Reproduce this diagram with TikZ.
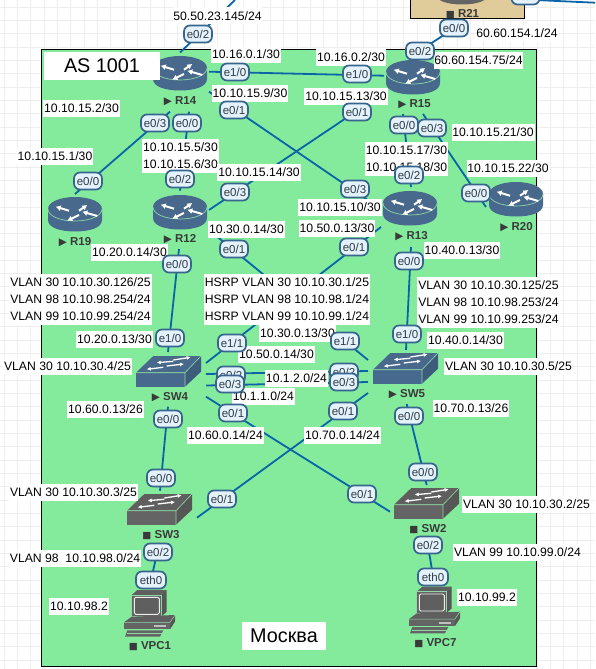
\documentclass[tikz,border=0pt]{standalone}
\usepackage{fontspec}
\setmainfont{Liberation Sans}
\newfontfamily\symf{DejaVu Sans}
\usetikzlibrary{arrows.meta,calc}
\definecolor{gridc}{HTML}{EEEEEE}
\definecolor{asgreen}{HTML}{84EB9D}
\definecolor{tan}{HTML}{E0CB9B}
\definecolor{linkc}{HTML}{0B64A8}
\definecolor{ifill}{HTML}{E3F2FD}
\definecolor{iedge}{HTML}{37658E}
\definecolor{itext}{HTML}{2F3B42}
\definecolor{devtext}{HTML}{3A3A3A}
\definecolor{edgegreen}{HTML}{8FD6A8}
\definecolor{bluetop}{HTML}{48698C}
\definecolor{bluefront}{HTML}{46698D}
\definecolor{blueside}{HTML}{3D5C7C}
\definecolor{graytop}{HTML}{5F5F5F}
\definecolor{grayfront}{HTML}{646464}
\definecolor{grayside}{HTML}{565656}
\tikzset{
  link/.style={draw=linkc,line width=1.8pt},
  addr/.style={fill=white,inner xsep=0.8pt,inner ysep=0pt,minimum height=17pt,text=black,font=\fontsize{12.2}{14}\selectfont},
  big/.style={fill=white,inner sep=0pt,text=black,font=\fontsize{19.8}{22}\selectfont},
  iface/.style={draw=iedge,fill=ifill,line width=1.7pt,rounded corners=6pt,minimum width=28pt,minimum height=17pt,inner sep=0pt,text=itext,font=\fontsize{11.5}{13}\selectfont},
  devlab/.style={inner sep=0pt,text=devtext,font=\fontsize{11.5}{13}\selectfont\bfseries},
  devbox/.style={inner sep=0pt,minimum width=#1,minimum height=33pt},
  wa/.style={draw=white,line width=2pt,-{Latex[length=5pt,width=6pt]}},
  wb/.style={draw=white,line width=1.3pt,-{Latex[length=4pt,width=4pt]}},
  pics/routericon/.style={code={
    \fill[#1front] (-27,-5) -- (-27,6) .. controls (-27,14) and (-14,17.5) .. (0,17.5) .. controls (14,17.5) and (27,14) .. (27,6) -- (27,-5) -- cycle;
    \fill[#1top] (0,-17) .. controls (15,-17) and (27,-12) .. (27,-5) .. controls (27,2) and (15,7) .. (0,7) .. controls (-15,7) and (-27,2) .. (-27,-5) .. controls (-27,-12) and (-15,-17) .. (0,-17) -- cycle;
    \draw[edgegreen,line width=0.7pt] (27,-5) .. controls (27,2) and (15,7) .. (0,7) .. controls (-15,7) and (-27,2) .. (-27,-5);
    \draw[wa] (-6,-3.3) -- (-19.3,-7.3);
    \draw[wa] (4,-3.3) -- (12.3,-9);
    \draw[wa] (22.3,2) -- (7.3,-2.3);
    \draw[wa] (4,1) -- (-7.7,6.7);
  }},
  pics/switchicon/.style={code={
    \fill[#1top] (0,16.7) -- (17.3,0) -- (65,0) -- (49,16.7) -- cycle;
    \fill[#1side] (49,16.7) -- (65,0) -- (65,15.7) -- (49,30.7) -- cycle;
    \fill[#1front] (0,16.7) rectangle (49,30.7);
    \draw[edgegreen,line width=0.6pt] (0,16.7) -- (49,16.7) -- (65,0) (49,16.7) -- (49,30.7);
    \draw[wb] (37.3,4) -- (54.7,1.3);
    \draw[wb] (37.3,5.3) -- (20.7,6.7);
    \draw[wb] (30.7,10) -- (48,8);
    \draw[wb] (27.3,11.3) -- (10.7,13.3);
  }},
  pics/pcicon/.style={code={
    \fill[graytop] (7.7,5) -- (13.3,0) -- (42.7,0) -- (37,5) -- cycle;
    \fill[grayside] (37,5) -- (42.7,0) -- (42.7,21.7) -- (37,26.7) -- cycle;
    \fill[grayfront] (7.7,5) rectangle (37,26.7);
    \draw[edgegreen,line width=0.5pt] (7.7,5) rectangle (37,26.7);
    \draw[white!85!gray,line width=0.9pt,fill=graytop,rounded corners=1.5pt] (10.3,7.3) rectangle (35.3,24.3);
    \fill[graytop] (0,32.3) -- (7.7,26.7) -- (51,25) -- (46,32.3) -- cycle;
    \fill[grayside] (46,32.3) -- (51,25) -- (51,31.7) -- (46,39.3) -- cycle;
    \fill[grayfront] (0,32.3) rectangle (46,39.3);
    \draw[edgegreen,line width=0.5pt] (0,32.3) -- (46,32.3) -- (51,25);
    \fill[gray!50] (30.3,35) rectangle (41.7,36.9);
    \fill[grayfront] (3.3,40.3) -- (39.3,40.3) -- (36,46.7) -- (1,46.7) -- cycle;
    \draw[edgegreen,line width=0.5pt] (2.5,43.5) -- (37.5,43.5);
  }},
}
\begin{document}
\begin{tikzpicture}[x=1pt,y=-1pt]
\useasboundingbox (0,0) rectangle (595,669);
\clip (0,0) rectangle (595,669);
\fill[white] (0,0) rectangle (595,669);
% background grid
\foreach \gx in {0,...,44} \draw[gridc,line width=0.9pt] ({4+\gx*13.33},0) -- ({4+\gx*13.33},669);
\foreach \gy in {0,...,50} \draw[gridc,line width=0.9pt] (0,{7+\gy*13.33}) -- (595,{7+\gy*13.33});
% areas
\draw[black,line width=1pt,fill=asgreen] (41.5,49.5) rectangle (536.5,666);
% connector ends
\coordinate (r14a) at (180,52.5);      \coordinate (extA) at (235,0);
\coordinate (r14b) at (209,71.7);      \coordinate (r15b) at (384,75.7);
\coordinate (r14c) at (209,91.7);      \coordinate (r13c) at (372,203);
\coordinate (r15d) at (382,94);        \coordinate (r12d) at (209,210);
\coordinate (r14e) at (170,111.7);     \coordinate (r19e) at (75,194);
\coordinate (r14f) at (189,111.7);     \coordinate (r12f) at (180,190.7);
\coordinate (r12g) at (209,230);       \coordinate (sw5g) at (368,360);
\coordinate (r13h) at (381,227);       \coordinate (sw4h) at (206,363);
\coordinate (r12i) at (179,249);       \coordinate (sw4i) at (168,352);
\coordinate (r13j) at (411,247);       \coordinate (sw5j) at (406,350);
\coordinate (sw4k) at (206,374);       \coordinate (sw5k) at (368,371);
\coordinate (sw4l) at (206,385.5);     \coordinate (sw5l) at (368,382);
\coordinate (sw4m) at (206,396.7);     \coordinate (sw2m) at (390,511.7);
\coordinate (sw5n) at (368,393);       \coordinate (sw3n) at (197,517.7);
\coordinate (sw4o) at (168,406.7);     \coordinate (sw3o) at (160,490.7);
\coordinate (sw5p) at (406.7,404);     \coordinate (sw2p) at (426.7,485);
\coordinate (sw3q) at (159,544);       \coordinate (pc1q) at (150,585);
\coordinate (sw2r) at (427,540);       \coordinate (pc7r) at (434,582);
\coordinate (r15s) at (403,114);       \coordinate (r13s) at (411,187);
\coordinate (r15t) at (423,114);       \coordinate (r20t) at (486,207);
\coordinate (r15u) at (412,56);        \coordinate (r21u) at (462,23);
\coordinate (r21v) at (535,0);         \coordinate (extB) at (595,2.7);
% connectors
\draw[link] (r14a) -- (extA);
\draw[link] (r14b) -- (r15b);
\draw[link] (r14c) -- (r13c);
\draw[link] (r15d) -- (r12d);
\draw[link] (r14e) -- (r19e);
\draw[link] (r14f) -- (r12f);
\draw[link] (r12g) -- (sw5g);
\draw[link] (r13h) -- (sw4h);
\draw[link] (r12i) -- (sw4i);
\draw[link] (r13j) -- (sw5j);
\draw[link] (sw4k) -- (sw5k);
\draw[link] (sw4l) -- (sw5l);
\draw[link] (sw4m) -- (sw2m);
\draw[link] (sw5n) -- (sw3n);
\draw[link] (sw4o) -- (sw3o);
\draw[link] (sw5p) -- (sw2p);
\draw[link] (sw3q) -- (pc1q);
\draw[link] (sw2r) -- (pc7r);
\draw[link] (r15s) -- (r13s);
\draw[link] (r15t) -- (r20t);
\draw[link] (r15u) -- (r21u);
\draw[link] (r21v) -- (extB);
% R21 area
\draw[black,line width=1pt,fill=tan] (410.5,-5) rectangle (524,19);
\pic at (462,-13) {routericon=gray};
\node[devbox=54pt] (r21) at (462,-13) {};
\newcommand{\playmark}{{\symf\fontsize{10.5}{11}\selectfont ▶}}
\newcommand{\stopmark}{{\symf\fontsize{9.5}{11}\selectfont ■}}
\node[devlab] (r21lab) at (462.5,14) {\stopmark\ R21};
% routers
\pic at (180,73) {routericon=blue};   \node[devbox=54pt] (r14) at (180,73) {};
\pic at (75,214) {routericon=blue};   \node[devbox=54pt] (r19) at (75,214) {};
\pic at (180,212) {routericon=blue};  \node[devbox=54pt] (r12) at (180,212) {};
\pic at (413,77) {routericon=blue};   \node[devbox=54pt] (r15) at (413,77) {};
\pic at (410,208) {routericon=blue};  \node[devbox=54pt] (r13) at (410,208) {};
\pic at (516,199) {routericon=blue};  \node[devbox=54pt] (r20) at (516,199) {};
% switches
\pic at (136,356) {switchicon=blue};  \node[devbox=65pt] (sw4) at (168.5,371.5) {};
\pic at (373,353) {switchicon=blue};  \node[devbox=65pt] (sw5) at (405.5,368.5) {};
\pic at (127,494) {switchicon=gray};  \node[devbox=65pt] (sw3) at (159.5,509.5) {};
\pic at (394,488) {switchicon=gray};  \node[devbox=65pt] (sw2) at (426.5,503.5) {};
% PCs
\pic at (124,590) {pcicon};    \node[devbox=51pt] (vpc1) at (149.5,613.5) {};
\pic at (409,586.7) {pcicon};  \node[devbox=51pt] (vpc7) at (434.5,610) {};
% device names
\node[devlab] (r14lab) at (180,101) {\playmark\ R14};
\node[devlab] (r19lab) at (75,242) {\playmark\ R19};
\node[devlab] (r12lab) at (180,239) {\playmark\ R12};
\node[devlab] (r15lab) at (414.5,104) {\playmark\ R15};
\node[devlab] (r13lab) at (411.5,236) {\playmark\ R13};
\node[devlab] (r20lab) at (516.5,227) {\playmark\ R20};
\node[devlab] (sw4lab) at (170,397) {\playmark\ SW4};
\node[devlab] (sw5lab) at (407,394) {\playmark\ SW5};
\node[devlab] (sw3lab) at (161,535) {\stopmark\ SW3};
\node[devlab] (sw2lab) at (428,529) {\stopmark\ SW2};
\node[devlab] (vpc1lab) at (150,646) {\stopmark\ VPC1};
\node[devlab] (vpc7lab) at (435.5,643) {\stopmark\ VPC7};
% big titles
\node[big,minimum width=116pt,minimum height=28pt] (as) at (102,66) {AS 1001};
\node[big,minimum width=84pt,minimum height=28pt] (city) at (284,636) {Москва};
% addresses
\node[addr] (t1) at (217.5,16) {50.50.23.145/24};
\node[addr] (t2) at (246,54.5) {10.16.0.1/30};
\node[addr] (t3) at (250,93.5) {10.10.15.9/30};
\node[addr] (t4) at (81.5,108.5) {10.10.15.2/30};
\node[addr] (t5) at (55,156.5) {10.10.15.1/30};
\node[addr] (t6) at (180.5,147.5) {10.10.15.5/30};
\node[addr] (t7) at (180.5,164.5) {10.10.15.6/30};
\node[addr] (t8) at (259,172) {10.10.15.14/30};
\node[addr] (t9) at (246.5,229) {10.30.0.14/30};
\node[addr] (t10) at (129.5,252.5) {10.20.0.14/30};
\node[addr] (t11) at (80.5,282.5) {VLAN 30 10.10.30.126/25};
\node[addr] (t12) at (80.5,299.5) {VLAN 98 10.10.98.254/24};
\node[addr] (t13) at (80.5,316.5) {VLAN 99 10.10.99.254/24};
\node[addr] (t14) at (287,282.5) {HSRP VLAN 30 10.10.30.1/25};
\node[addr] (t15) at (287,299.5) {HSRP VLAN 98 10.10.98.1/24};
\node[addr] (t16) at (287,316.5) {HSRP VLAN 99 10.10.99.1/24};
\node[addr] (t17) at (114.5,339.5) {10.20.0.13/30};
\node[addr] (t18) at (67.5,366.5) {VLAN 30 10.10.30.4/25};
\node[addr] (t19) at (105.5,409) {10.60.0.13/26};
\node[addr] (t20) at (225.5,435.5) {10.60.0.14/24};
\node[addr] (t21) at (297.5,333) {10.30.0.13/30};
\node[addr] (t22) at (276.5,354.5) {10.50.0.14/30};
\node[addr] (t23) at (263.5,396.5) {10.1.1.0/24};
\node[addr] (t24) at (296.5,378.5) {10.1.2.0/24};
\node[addr] (t25) at (342.5,435.5) {10.70.0.14/24};
\node[addr] (t26) at (337,228.5) {10.50.0.13/30};
\node[addr] (t27) at (340,207.5) {10.10.15.10/30};
\node[addr] (t28) at (462,250) {10.40.0.13/30};
\node[addr] (t29) at (488.5,285.5) {VLAN 30 10.10.30.125/25};
\node[addr] (t30) at (488.5,302.5) {VLAN 98 10.10.98.253/24};
\node[addr] (t31) at (488.5,319.5) {VLAN 99 10.10.99.253/24};
\node[addr] (t32) at (465.5,340) {10.40.0.14/30};
\node[addr] (t33) at (508.5,366.5) {VLAN 30 10.10.30.5/25};
\node[addr] (t34) at (471,408.5) {10.70.0.13/26};
\node[addr] (t35) at (351,57.5) {10.16.0.2/30};
\node[addr] (t36) at (346,96.5) {10.10.15.13/30};
\node[addr] (t37) at (478.5,60.5) {60.60.154.75/24};
\node[addr] (t38) at (517,33.5) {60.60.154.1/24};
\node[addr] (t39) at (493,132.5) {10.10.15.21/30};
\node[addr] (t40) at (406.5,150.5) {10.10.15.17/30};
\node[addr] (t41) at (406.5,167.5) {10.10.15.18/30};
\node[addr] (t42) at (508,168.5) {10.10.15.22/30};
\node[addr] (t43) at (73.5,492.5) {VLAN 30 10.10.30.3/25};
\node[addr] (t44) at (75,558) {VLAN 98\ \ 10.10.98.0/24};
\node[addr] (t45) at (79,606.5) {10.10.98.2};
\node[addr] (t46) at (526.5,504.5) {VLAN 30 10.10.30.2/25};
\node[addr] (t47) at (517.5,552.5) {VLAN 99 10.10.99.0/24};
\node[addr] (t48) at (487,597.5) {10.10.99.2};
% interface labels
\node[iface] (i1) at (198,34) {e0/2};
\node[iface] (i2) at (235,72) {e1/0};
\node[iface] (i3) at (234,110) {e0/1};
\node[iface] (i4) at (155,123) {e0/3};
\node[iface] (i5) at (187,123) {e0/0};
\node[iface] (i6) at (88,181) {e0/0};
\node[iface] (i7) at (180,179) {e0/2};
\node[iface] (i8) at (235,192) {e0/3};
\node[iface] (i9) at (177,264) {e0/0};
\node[iface] (i10) at (234,249) {e0/1};
\node[iface] (i11) at (170,338) {e1/0};
\node[iface] (i12) at (232,343) {e1/1};
\node[iface] (i13) at (231,375) {e0/2};
\node[iface] (i14) at (230,384) {e0/3};
\node[iface] (i15) at (233,413) {e0/1};
\node[iface] (i16) at (168,419) {e0/0};
\node[iface] (i17) at (161,478) {e0/0};
\node[iface] (i18) at (222,499) {e0/1};
\node[iface] (i19) at (158,552) {e0/2};
\node[iface,minimum width=30pt] (i20) at (151,580) {eth0};
\node[iface] (i21) at (423,472) {e0/0};
\node[iface] (i22) at (362,494) {e0/1};
\node[iface] (i23) at (428,545) {e0/2};
\node[iface,minimum width=30pt] (i24) at (433,577) {eth0};
\node[iface] (i25) at (409,416) {e0/0};
\node[iface] (i26) at (343,411) {e0/1};
\node[iface] (i27) at (344,372) {e0/2};
\node[iface] (i28) at (344,382) {e0/3};
\node[iface] (i29) at (345,341) {e1/1};
\node[iface] (i30) at (407,334) {e1/0};
\node[iface] (i31) at (409,261) {e0/0};
\node[iface] (i32) at (354,247) {e0/1};
\node[iface] (i33) at (355,189) {e0/3};
\node[iface] (i34) at (409,175) {e0/2};
\node[iface] (i35) at (420,51) {e0/2};
\node[iface] (i36) at (454,28) {e0/0};
\node[iface] (i37) at (357,74) {e1/0};
\node[iface] (i38) at (357,112) {e0/1};
\node[iface] (i39) at (404,125) {e0/0};
\node[iface] (i40) at (432,128) {e0/3};
\node[iface] (i41) at (476,193) {e0/0};
\node[iface] (i42) at (525.5,-4) {e0/1};
\end{tikzpicture}
\end{document}
